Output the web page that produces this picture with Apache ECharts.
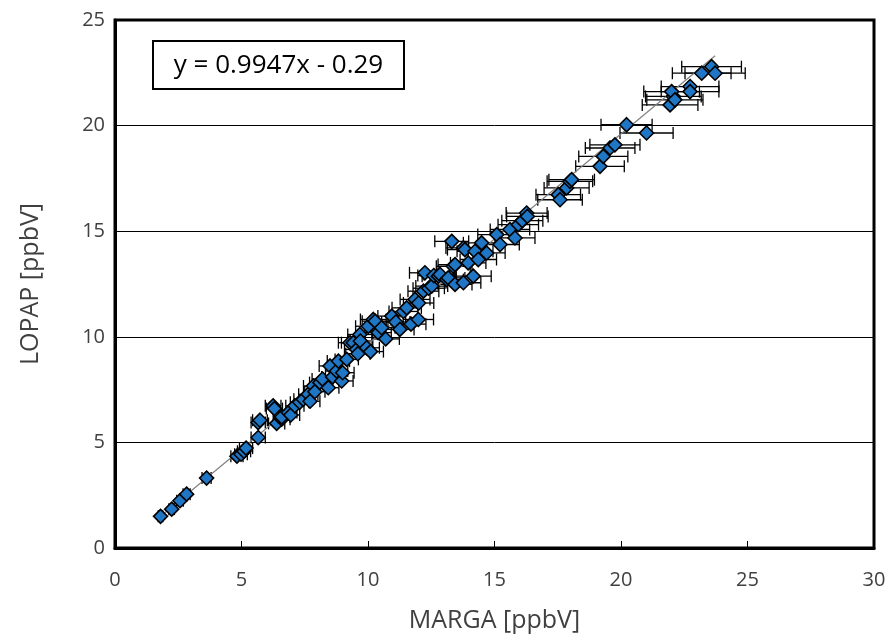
<!DOCTYPE html>
<html>
<head>
<meta charset="utf-8">
<script src="https://cdn.jsdelivr.net/npm/echarts@6/dist/echarts.min.js"></script>
<style>
html,body{margin:0;padding:0;background:#fff;}
#chart{width:889px;height:638px;}
</style>
</head>
<body>
<div id="chart"></div>
<script>
// MARGA (x) values, ppbV
const marga = [1.8,2.24,2.57,2.83,3.62,4.82,4.98,5.1,5.18,5.66,5.66,5.73,6.25,6.3,6.39,6.59,6.59,6.85,6.95,7.11,
  7.3,7.44,7.64,7.71,7.84,7.9,8.1,8.2,8.43,8.5,8.6,8.76,8.83,8.96,9.0,9.16,9.29,9.42,9.55,9.6,
  9.68,9.7,9.95,10.01,10.1,10.21,10.28,10.4,10.54,10.7,10.94,11.1,11.26,11.4,11.53,11.7,11.86,11.99,12.0,12.19,
  12.25,12.4,12.52,12.6,12.78,12.85,13.11,13.17,13.31,13.37,13.44,13.44,13.77,13.77,13.83,13.96,14.16,14.23,14.36,14.49,
  14.69,15.09,15.22,15.61,15.81,15.94,16.1,16.27,16.3,17.52,17.59,17.85,17.98,18.05,19.17,19.3,19.57,19.76,20.22,21.01,
  21.94,22.07,22.0,22.13,22.73,22.73,23.19,23.58,23.72];
// LOPAP (y) values, ppbV
const lopap = [1.5,1.84,2.24,2.55,3.31,4.35,4.44,4.58,4.73,5.23,5.94,6.05,6.73,6.6,5.9,6.1,6.2,6.41,6.3,6.73,
  6.9,7.04,7.28,6.95,7.67,7.4,7.83,8.0,7.59,8.62,8.1,8.38,8.85,7.91,8.3,8.93,9.72,9.72,9.4,9.2,
  10.11,9.8,9.48,10.5,9.3,10.82,10.74,10.2,10.43,9.9,10.98,10.7,10.35,11.2,11.37,10.6,11.77,10.82,11.6,12.16,
  13.03,12.3,12.4,12.9,12.87,12.95,12.71,12.79,14.52,13.34,12.48,13.42,14.21,12.56,14.13,13.5,12.87,14.05,13.66,14.45,
  13.97,14.84,14.37,15.08,14.68,15.31,15.5,15.86,15.7,16.73,16.49,17.05,17.36,17.44,18.07,18.54,18.94,19.09,20.04,19.65,
  20.98,21.38,21.61,21.22,21.85,21.61,22.48,22.79,22.48];
// MARGA uncertainty (half width of horizontal error bar), ppbV
const margaErr = [0.09,0.11,0.13,0.14,0.18,0.24,0.25,0.26,0.26,0.28,0.28,0.29,0.31,0.32,0.32,0.33,0.33,0.34,0.35,0.36,
  0.37,0.37,0.38,0.39,0.39,0.4,0.41,0.41,0.42,0.43,0.43,0.44,0.44,0.45,0.45,0.46,0.46,0.47,0.48,0.48,
  0.48,0.49,0.5,0.5,0.51,0.51,0.51,0.52,0.53,0.54,0.55,0.56,0.56,0.57,0.58,0.59,0.59,0.6,0.6,0.61,
  0.61,0.62,0.63,0.63,0.64,0.64,0.66,0.66,0.67,0.67,0.67,0.67,0.69,0.69,0.69,0.7,0.71,0.71,0.72,0.72,
  0.73,0.75,0.76,0.78,0.79,0.8,0.81,0.81,0.82,0.88,0.88,0.89,0.9,0.9,0.96,0.97,0.98,0.99,1.01,1.05,
  1.1,1.1,1.1,1.11,1.14,1.14,1.16,1.18,1.19];
const xTicks = [0,5,10,15,20,25,30];
const yTicks = [0,5,10,15,20,25];
const slope = 0.9947, intercept = -0.29;
const eqText = 'y = 0.9947x - 0.29';
const xTitle = 'MARGA [ppbV]';
const yTitle = 'LOPAP [ppbV]';

const pts = marga.map((x,i)=>[x, lopap[i], margaErr[i]]);
const xMinFit = Math.min(...marga), xMaxFit = Math.max(...marga);
const fitLine = [[xMinFit, slope*xMinFit+intercept],[xMaxFit, slope*xMaxFit+intercept]];

const FONT = '"Open Sans", "Liberation Sans", sans-serif';
const chart = echarts.init(document.getElementById('chart'), null, {renderer:'canvas'});
chart.setOption({
  animation:false,
  backgroundColor:'#fff',
  grid:{left:115,right:15,top:20,bottom:89,show:true,borderColor:'#000',borderWidth:3,backgroundColor:'transparent'},
  xAxis:{
    type:'value',min:0,max:30,interval:5,
    name:xTitle,nameLocation:'middle',nameGap:60,
    nameTextStyle:{fontFamily:FONT,fontSize:25,color:'#404040'},
    axisLine:{show:true,lineStyle:{color:'#000',width:3}},
    axisTick:{show:true,inside:true,length:7,lineStyle:{color:'#000',width:1}},
    axisLabel:{fontFamily:FONT,fontSize:20,color:'#404040',margin:22},
    splitLine:{show:false}
  },
  yAxis:{
    type:'value',min:0,max:25,interval:5,
    name:yTitle,nameLocation:'middle',nameGap:72,nameRotate:90,
    nameTextStyle:{fontFamily:FONT,fontSize:25,color:'#404040'},
    axisLine:{show:true,lineStyle:{color:'#000',width:3}},
    axisTick:{show:false},
    axisLabel:{fontFamily:FONT,fontSize:20,color:'#404040',margin:10},
    splitLine:{show:true,lineStyle:{color:'#000',width:1}}
  },
  series:[
    {
      type:'custom',
      z:2,
      data:pts,
      renderItem:function(params, api){
        const x = api.value(0), y = api.value(1), e = api.value(2);
        const p1 = api.coord([x-e, y]);
        const p2 = api.coord([x+e, y]);
        const cap = 6;
        const style = {stroke:'#000',lineWidth:1.3};
        return {type:'group',children:[
          {type:'line',shape:{x1:p1[0],y1:p1[1],x2:p2[0],y2:p2[1]},style:style},
          {type:'line',shape:{x1:p1[0],y1:p1[1]-cap,x2:p1[0],y2:p1[1]+cap},style:style},
          {type:'line',shape:{x1:p2[0],y1:p2[1]-cap,x2:p2[0],y2:p2[1]+cap},style:style}
        ]};
      }
    },
    {
      type:'line',
      z:3,
      data:fitLine,
      symbol:'none',
      lineStyle:{color:'#808080',width:1.2},
      silent:true
    },
    {
      type:'scatter',
      z:4,
      data:pts.map(p=>[p[0],p[1]]),
      symbol:'diamond',
      symbolSize:14,
      itemStyle:{color:'#1f76c4',borderColor:'#000',borderWidth:1.6,opacity:1}
    }
  ],
  graphic:[
    {
      type:'group',
      left:152,top:40,
      children:[
        {type:'rect',shape:{x:0,y:0,width:251,height:48},style:{fill:'#fff',stroke:'#000',lineWidth:2}},
        {type:'text',x:125.5,y:25,style:{text:eqText,fontFamily:FONT,fontSize:26,fill:'#000',align:'center',verticalAlign:'middle'}}
      ]
    }
  ]
});
</script>
</body>
</html>
